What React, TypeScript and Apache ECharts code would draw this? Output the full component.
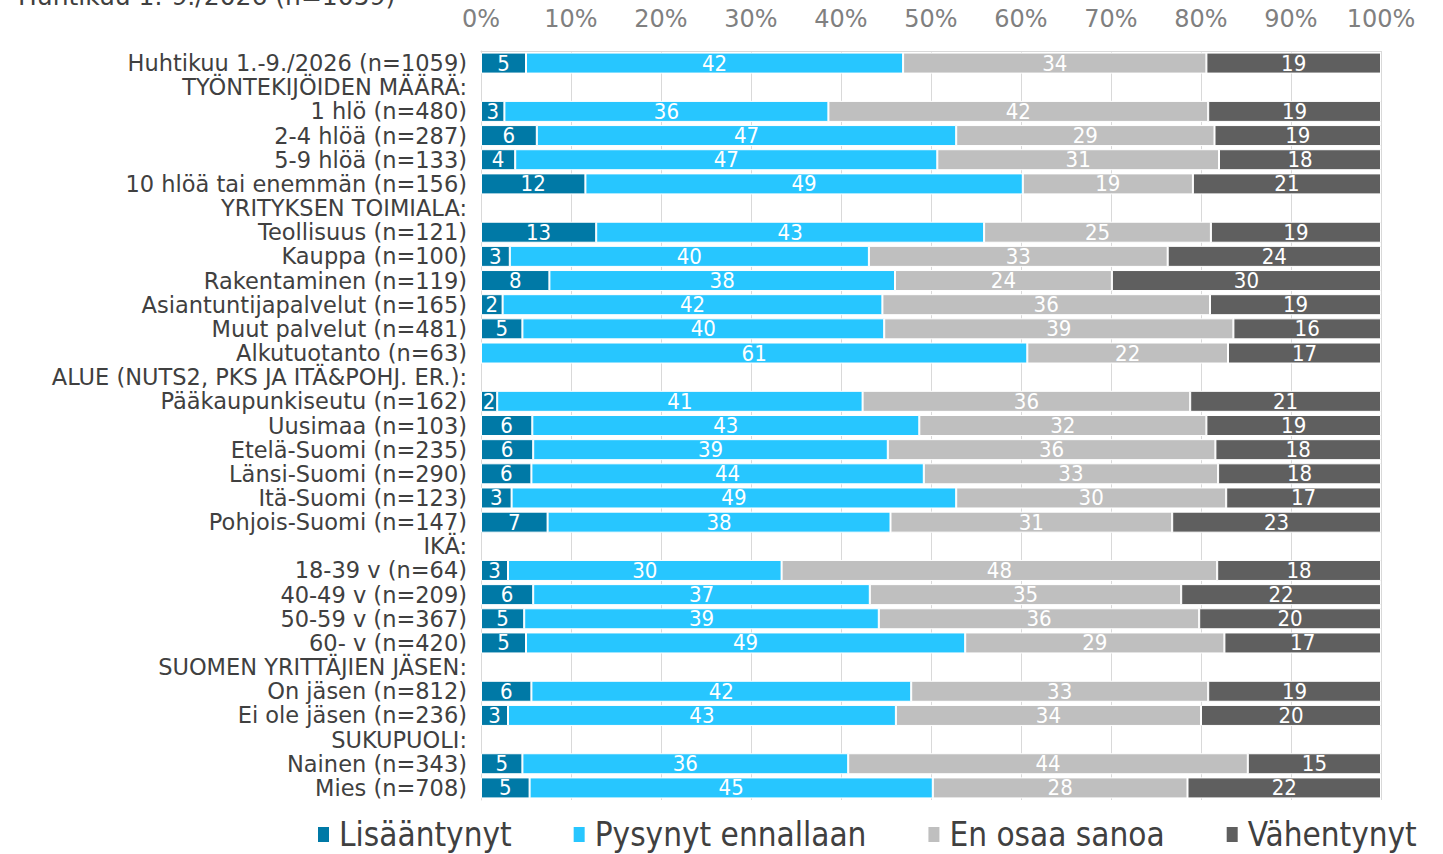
import React, { useEffect, useRef } from "react";
import * as echarts from "echarts";

const categories = [
  "Huhtikuu 1.-9./2026 (n=1059)",
  "TYÖNTEKIJÖIDEN MÄÄRÄ:",
  "1 hlö (n=480)",
  "2-4 hlöä (n=287)",
  "5-9 hlöä (n=133)",
  "10 hlöä tai enemmän (n=156)",
  "YRITYKSEN TOIMIALA:",
  "Teollisuus (n=121)",
  "Kauppa (n=100)",
  "Rakentaminen (n=119)",
  "Asiantuntijapalvelut (n=165)",
  "Muut palvelut (n=481)",
  "Alkutuotanto (n=63)",
  "ALUE (NUTS2, PKS JA ITÄ&POHJ. ER.):",
  "Pääkaupunkiseutu (n=162)",
  "Uusimaa (n=103)",
  "Etelä-Suomi (n=235)",
  "Länsi-Suomi (n=290)",
  "Itä-Suomi (n=123)",
  "Pohjois-Suomi (n=147)",
  "IKÄ:",
  "18-39 v (n=64)",
  "40-49 v (n=209)",
  "50-59 v (n=367)",
  "60- v (n=420)",
  "SUOMEN YRITTÄJIEN JÄSEN:",
  "On jäsen (n=812)",
  "Ei ole jäsen (n=236)",
  "SUKUPUOLI:",
  "Nainen (n=343)",
  "Mies (n=708)",
];

const lisaantynyt = [
  5.0, null, 2.6, 6.2, 3.8, 11.6, null, 12.8, 3.2, 7.6, 2.4, 4.6, 0, null,
  1.8, 5.7, 5.8, 5.6, 3.4, 7.4, null, 3.0, 5.8, 4.8, 5.0, null, 5.6, 3.0, null, 4.6, 5.4,
];
const pysynyt = [
  41.9, null, 36.0, 46.6, 46.9, 48.6, null, 43.1, 39.9, 38.4, 42.2, 40.2, 60.7, null,
  40.6, 43.0, 39.4, 43.6, 49.4, 38.1, null, 30.4, 37.4, 39.4, 48.8, null, 42.2, 43.1, null, 36.2, 44.8,
];
const enOsaa = [
  33.7, null, 42.2, 28.7, 31.3, 18.9, null, 25.2, 33.2, 24.1, 36.4, 38.8, 22.3, null,
  36.4, 31.9, 36.4, 32.7, 30.0, 31.3, null, 48.4, 34.6, 35.6, 28.8, null, 33.0, 33.9, null, 44.4, 28.3,
];
const vahentynyt = [
  19.4, null, 19.2, 18.5, 18.0, 20.9, null, 18.9, 23.7, 29.9, 19.0, 16.4, 17.0, null,
  21.2, 19.4, 18.4, 18.1, 17.2, 23.2, null, 18.2, 22.2, 20.2, 17.4, null, 19.2, 20.0, null, 14.8, 21.5,
];

const seriesNames = ["Lisääntynyt", "Pysynyt ennallaan", "En osaa sanoa", "Vähentynyt"];
const seriesColors = ["#0079A6", "#27C6FF", "#BFBFBF", "#5F5F5F"];
const xTicks = [0, 10, 20, 30, 40, 50, 60, 70, 80, 90, 100];

export default function App() {
  const ref = useRef<HTMLDivElement>(null);
  useEffect(() => {
    if (!ref.current) return;
    const chart = echarts.init(ref.current, null, { renderer: "svg" });
    const data = [lisaantynyt, pysynyt, enOsaa, vahentynyt];
    chart.setOption({
      animation: false,
      backgroundColor: "#ffffff",
      graphic: [
        {
          type: "text",
          left: 18,
          top: -16,
          style: {
            text: categories[0],
            fontFamily: "DejaVu Sans",
            fontSize: 25,
            fill: "#404040",
          },
        },
      ],
      legend: {
        top: 813,
        left: 311,
        icon: "rect",
        itemWidth: 13,
        itemHeight: 17,
        itemGap: 60,
        data: seriesNames,
        textStyle: {
          fontFamily: "DejaVu Sans Condensed",
          fontSize: 33,
          color: "#404040",
          padding: [0, 0, 0, 4],
        },
      },
      grid: { left: 481, right: 62, top: 51, bottom: 54, containLabel: false },
      xAxis: {
        type: "value",
        position: "top",
        min: xTicks[0],
        max: xTicks[xTicks.length - 1],
        interval: 10,
        axisLine: { show: true, lineStyle: { color: "#D9D9D9" } },
        axisTick: { show: false },
        splitLine: { show: true, lineStyle: { color: "#D9D9D9" } },
        axisLabel: {
          formatter: "{value}%",
          color: "#808080",
          fontFamily: "DejaVu Sans",
          fontSize: 24,
          margin: 20,
        },
      },
      yAxis: {
        type: "category",
        inverse: true,
        data: categories,
        axisLine: { show: true, lineStyle: { color: "#D9D9D9" } },
        axisTick: { show: false },
        axisLabel: {
          color: "#404040",
          fontFamily: "DejaVu Sans",
          fontSize: 22.5,
          margin: 14,
          interval: 0,
        },
      },
      series: seriesNames.map((name, i) => ({
        name,
        type: "bar",
        stack: "total",
        barWidth: 21,
        data: data[i],
        itemStyle: { color: seriesColors[i], borderColor: "#ffffff", borderWidth: 1 },
        label: {
          show: true,
          position: "inside",
          color: "#ffffff",
          fontFamily: "DejaVu Sans Condensed",
          fontSize: 22,
          formatter: (p: any) =>
            p.value === null || p.value === undefined || p.value === 0 ? "" : String(Math.round(p.value)),
        },
      })),
    });
    return () => chart.dispose();
  }, []);
  return (
    <div
      ref={ref}
      style={{ position: "fixed", left: 0, top: 0, width: 1443, height: 854, background: "#fff" }}
    />
  );
}
